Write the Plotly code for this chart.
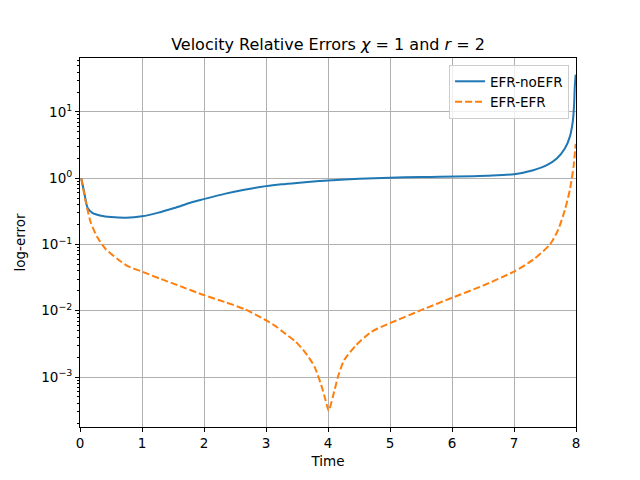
import plotly.graph_objects as go

# 时间轴和两条误差曲线
time_noefr = [0.02, 0.07, 0.124, 0.2, 0.34, 0.5, 0.74, 1.0, 1.25, 1.52, 1.79, 2.0,
              2.33, 2.65, 3.0, 3.25, 3.5, 3.86, 4.0, 4.5, 5.0, 5.5, 5.8, 6.34, 6.56,
              7.0, 7.31, 7.53, 7.69, 7.82, 7.9, 7.95, 7.97, 7.98, 7.995]
err_noefr = [1.0, 0.6, 0.355, 0.30, 0.272, 0.26, 0.254, 0.266, 0.30, 0.355, 0.43, 0.484,
             0.58, 0.67, 0.76, 0.81, 0.85, 0.905, 0.925, 0.98, 1.02, 1.04, 1.05, 1.07, 1.09,
             1.15, 1.32, 1.57, 1.98, 2.8, 4.2, 7.4, 13.3, 23.6, 36.5]

time_efr = [0.02, 0.097, 0.177, 0.285, 0.42, 0.61, 0.77, 1.0, 1.31, 1.575, 2.0, 2.33,
            2.65, 3.0, 3.16, 3.26, 3.48, 3.64, 3.78, 3.89, 3.96, 4.01, 4.08, 4.16,
            4.26, 4.45, 4.67, 4.8, 5.0, 5.5, 6.0, 6.5, 7.0, 7.31,
            7.58, 7.71, 7.82, 7.9, 7.96, 7.995]
err_efr = [1.0, 0.42, 0.21, 0.126, 0.084, 0.06, 0.047, 0.039, 0.030, 0.0243, 0.0172, 0.0136,
           0.0106, 0.0072, 0.0058, 0.0049, 0.0034, 0.0023, 0.00145, 0.00076, 0.00045, 0.00031,
           0.00051, 0.0010, 0.0018, 0.0030, 0.0046, 0.0054, 0.0065, 0.0102, 0.0157, 0.024,
           0.039, 0.059, 0.1, 0.165, 0.33, 0.66, 1.48, 3.3]

y_tickvals = [1e-3, 1e-2, 1e-1, 1e0, 1e1]
y_ticktext = ['10<sup>−3</sup>', '10<sup>−2</sup>', '10<sup>−1</sup>', '10<sup>0</sup>', '10<sup>1</sup>']
y_minor = [m * 10.0 ** e for e in range(-4, 2) for m in range(2, 10)]
x_tickvals = [0, 1, 2, 3, 4, 5, 6, 7, 8]

fig = go.Figure()
fig.add_trace(go.Scatter(
    x=time_noefr, y=err_noefr, mode='lines', name='EFR-noEFR',
    line=dict(color='#1f77b4', width=2, shape='spline', smoothing=0.8)
))
fig.add_trace(go.Scatter(
    x=time_efr, y=err_efr, mode='lines', name='EFR-EFR',
    line=dict(color='#ff7f0e', width=2, dash='7px,3px', shape='spline', smoothing=0.6)
))

axis_common = dict(
    showline=True, linecolor='black', linewidth=1, mirror=True,
    showgrid=True, gridcolor='#b0b0b0', gridwidth=1.1,
    ticks='outside', ticklen=4, tickcolor='black',
    zeroline=False,
    tickfont=dict(family='DejaVu Sans', size=13.5, color='black'),
)

# 页面有 8px 的 body 边距，这里用边距补偿
fig.update_layout(
    width=640, height=480,
    paper_bgcolor='white', plot_bgcolor='white',
    margin=dict(l=72, r=72, t=50, b=61),
    font=dict(family='DejaVu Sans', size=13.5, color='black'),
    title=dict(
        text='Velocity Relative Errors <i>χ</i> = 1 and <i>r</i> = 2',
        x=0.5, xref='paper', xanchor='center',
        y=1 - 36 / 480, yref='container', yanchor='middle',
        font=dict(size=16, family='DejaVu Sans', color='black')
    ),
    xaxis=dict(
        range=[0, 8], tickvals=x_tickvals,
        title=dict(text='Time', standoff=6, font=dict(size=13.5)),
        **axis_common
    ),
    yaxis=dict(
        type='log', range=[-3.754, 1.814],
        tickvals=y_tickvals, ticktext=y_ticktext,
        title=dict(text='log-error', standoff=12, font=dict(size=13.5)),
        minor=dict(tickmode='array', tickvals=y_minor, ticks='outside',
                   ticklen=2, tickcolor='black', showgrid=False),
        **axis_common
    ),
    legend=dict(
        x=0.986, y=0.981, xanchor='right', yanchor='top',
        bgcolor='rgba(255,255,255,0.8)', bordercolor='#cccccc', borderwidth=1,
        font=dict(size=13.5, family='DejaVu Sans'),
        tracegroupgap=0, itemwidth=30
    ),
    showlegend=True,
)

fig.write_html('out.html')
